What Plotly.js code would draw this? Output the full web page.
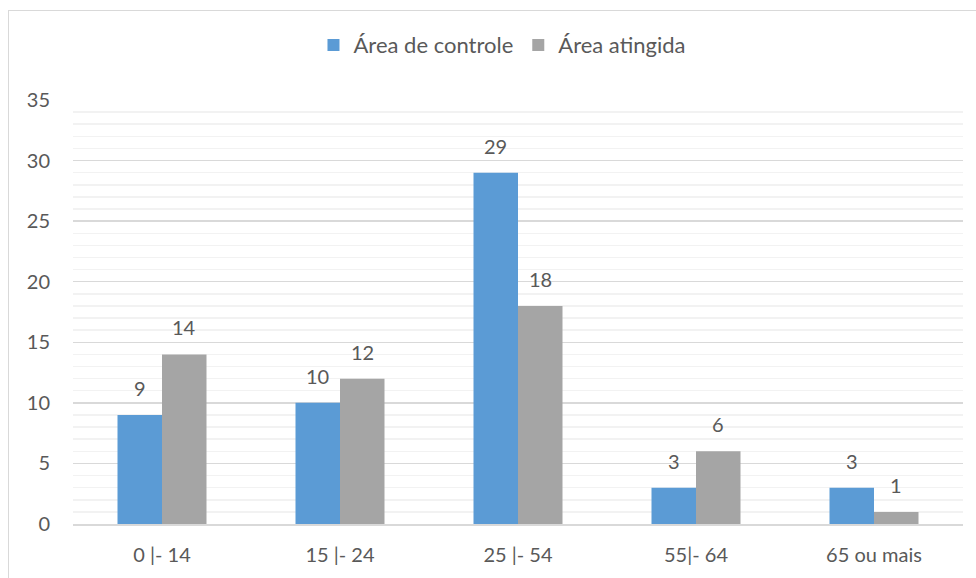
<!DOCTYPE html>
<html>
<head>
<meta charset="utf-8">
<script src="https://cdn.plot.ly/plotly-3.0.1.min.js"></script>
<style>
html,body{margin:0;padding:0;background:#fff;overflow:hidden;}
#frame{position:absolute;left:8px;top:10px;width:1000px;height:600px;border:1.5px solid #d9d9d9;}
#chart{position:absolute;left:0;top:0;width:976px;height:578px;}
</style>
</head>
<body>
<div id="frame"></div>
<div id="chart"></div>
<script>
var categories = ["0 |- 14", "15 |- 24", "25 |- 54", "55|- 64", "65 ou mais"];
var seriesNames = ["Área de controle", "Área atingida"];
var controle = [9, 10, 29, 3, 3];
var atingida = [14, 12, 18, 6, 1];
var yTicks = [0, 5, 10, 15, 20, 25, 30, 35];

var font = {family: "Lato, 'Open Sans', sans-serif", size: 20, color: "#595959"};
var legendFont = {family: "Lato, 'Open Sans', sans-serif", size: 22, color: "#595959"};

var traces = [
  {type: "bar", name: seriesNames[0], x: categories, y: controle, marker: {color: "#5b9bd5"}},
  {type: "bar", name: seriesNames[1], x: categories, y: atingida, marker: {color: "#a5a5a5"}}
];

var barHalf = 22.25;
var annotations = [];
[controle, atingida].forEach(function (vals, s) {
  vals.forEach(function (v, i) {
    annotations.push({x: categories[i], y: v, xref: "x", yref: "y", text: String(v),
      showarrow: false, xanchor: "center", yanchor: "bottom",
      xshift: s === 0 ? -barHalf : barHalf, yshift: 13, font: font});
  });
});

var layout = {
  width: 976, height: 578,
  margin: {l: 73, r: 13, t: 100, b: 54},
  paper_bgcolor: "rgba(0,0,0,0)", plot_bgcolor: "rgba(0,0,0,0)",
  font: font,
  barmode: "group", bargap: 0.5, bargroupgap: 0,
  showlegend: true,
  legend: {orientation: "h", x: 0.482, xanchor: "center", y: 1.08, yanchor: "bottom",
           font: legendFont, itemwidth: 30, traceorder: "normal"},
  xaxis: {type: "category", showgrid: false, showline: true, linecolor: "#d9d9d9", linewidth: 1.5,
          ticks: "", ticklabelstandoff: 12, tickfont: font},
  yaxis: {range: [0, 35], tickvals: yTicks, showgrid: true, gridcolor: "#d9d9d9", gridwidth: 1.5,
          zeroline: false, showline: false, ticks: "", ticklabelstandoff: 22, tickfont: font,
          minor: {dtick: 1, showgrid: true, gridcolor: "#f2f2f2", gridwidth: 1.5}},
  annotations: annotations
};

Plotly.newPlot("chart", traces, layout, {displayModeBar: false, staticPlot: true});
</script>
</body>
</html>
